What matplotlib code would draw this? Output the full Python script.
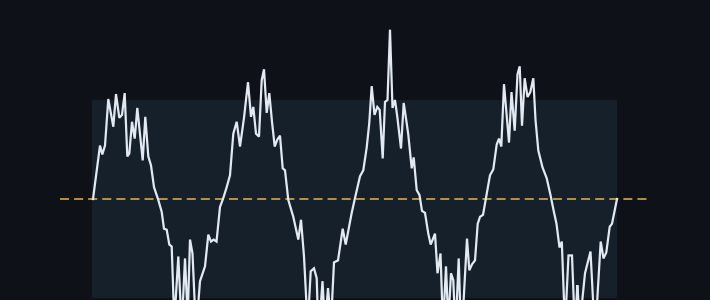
import matplotlib
matplotlib.use("Agg")
import matplotlib.pyplot as plt
from matplotlib.patches import FancyBboxPatch

# Sampled signal: time (ms) and amplitude (normalised units)
t = [0, 7, 9.3, 12, 15.3, 20.3, 23, 26.3, 29, 31.7, 34.3, 36.3, 39, 41.7, 44.3,
     49.7, 52.3, 55.3, 58, 61, 65.3, 68.7, 71, 73.7, 76.3, 78.7, 81.3, 85.3, 88.7,
     92, 94.7, 97, 99.5, 103, 107, 112, 115.3, 118, 120.7, 123.5, 127, 130.3,
     133.7, 137, 140.3, 143.7, 147, 151, 155, 158, 160.3, 163, 166, 168.7, 171,
     173.7, 176.3, 179, 181.7, 184.3, 187, 189.7, 192, 195.3, 200.3, 205.3, 208,
     211, 214.7, 217.7, 221, 223.7, 225.5, 229.5, 232, 235, 238, 241, 245, 249.7,
     252.7, 258.7, 262, 267, 270.3, 273.7, 276.2, 278.7, 281.5, 284.3, 286.7,
     289.7, 292, 294.5, 297, 299.5, 302, 304.3, 308, 310.7, 313.5, 315.3, 318.7,
     320.7, 323.7, 326.5, 329, 332, 335.3, 337.7, 342, 344.5, 347.5, 350, 353,
     355.3, 358, 360.3, 362.5, 365.7, 368.3, 374, 376.3, 379, 382, 384.7, 387,
     390, 393, 397, 400.3, 403.7, 406, 408.3, 411, 413.5, 416, 418.5, 421.7,
     424.5, 426.7, 429, 431.7, 434.5, 437.3, 440.3, 442.5, 445.3, 449.5, 453.7,
     457.5, 460.7, 463.5, 466.5, 468.8, 472, 475.5, 479, 482, 484.3, 487, 492,
     497.5, 502, 507.7, 510.5, 513.3, 516.7, 519, 524]
signal = [0.0, 0.54, 0.45, 0.54, 1.01, 0.73, 1.06, 0.82, 0.85, 1.07, 0.43, 0.46,
          0.78, 0.61, 0.92, 0.39, 0.83, 0.43, 0.34, 0.12, -0.01, -0.13, -0.30,
          -0.31, -0.46, -0.48, -1.25, -0.58, -1.30, -0.60, -1.20, -0.41, -0.55,
          -1.35, -0.83, -0.68, -0.36, -0.43, -0.41, -0.43, -0.08, 0.01, 0.12,
          0.24, 0.66, 0.78, 0.53, 0.82, 1.18, 0.83, 0.93, 0.66, 0.63, 1.20, 1.31,
          0.87, 1.07, 0.78, 0.53, 0.60, 0.64, 0.31, 0.29, -0.01, -0.18, -0.41,
          -0.21, -0.58, -1.30, -0.73, -0.70, -0.80, -1.40, -0.83, -1.30, -0.90,
          -1.25, -0.64, -0.62, -0.30, -0.46, -0.14, 0.01, 0.23, 0.29, 0.52, 0.76,
          1.14, 0.85, 0.93, 0.90, 0.41, 0.98, 1.00, 1.71, 0.92, 1.00, 0.83, 0.51,
          0.97, 0.78, 0.65, 0.31, 0.42, 0.09, 0.04, -0.12, -0.14, -0.35, -0.46,
          -0.35, -0.75, -0.55, -1.30, -0.68, -1.25, -0.75, -0.82, -1.35, -0.60,
          -1.45, -0.40, -0.72, -0.66, -0.62, -0.25, -0.18, -0.16, 0.01, 0.24,
          0.30, 0.55, 0.61, 0.53, 1.16, 0.87, 0.57, 1.08, 0.69, 1.26, 1.34, 0.74,
          1.22, 1.03, 1.08, 1.22, 0.80, 0.49, 0.32, 0.21, 0.04, -0.12, -0.25,
          -0.49, -0.43, -1.30, -0.57, -0.57, -1.35, -0.87, -1.25, -0.75, -0.53,
          -1.40, -0.43, -0.60, -0.54, -0.28, -0.25, 0.0]

# Normal operating band and baseline
band_low, band_high = -1.0, 1.0
baseline = 0.0

BG = "#0e1117"
BAND = "#16202b"
LINE = "#e2e9f1"
GOLD = "#d6aa4a"

fig = plt.figure(figsize=(7.1, 3.0), dpi=100, facecolor=BG)
ax = fig.add_axes([0, 0, 1, 1])
ax.set_facecolor(BG)

ax.add_patch(FancyBboxPatch((t[0] - 1, band_low), t[-1] - t[0] + 1,
                            band_high - band_low,
                            boxstyle="round,pad=0,rounding_size=2",
                            mutation_aspect=0.01,
                            facecolor=BAND, edgecolor="none", zorder=1))
ax.hlines(baseline, t[0] - 33, t[-1] + 33, colors=GOLD, linewidth=1.3,
          linestyles=(0, (5, 2.8)), zorder=2, alpha=0.9)
ax.plot(t, signal, color=LINE, linewidth=1.6, solid_joinstyle="miter",
        zorder=3)

ax.set_xlim(-93, 617)
ax.set_ylim(-1.02, 2.01)
ax.axis("off")

fig.savefig("out.png", dpi=100, facecolor=BG)
